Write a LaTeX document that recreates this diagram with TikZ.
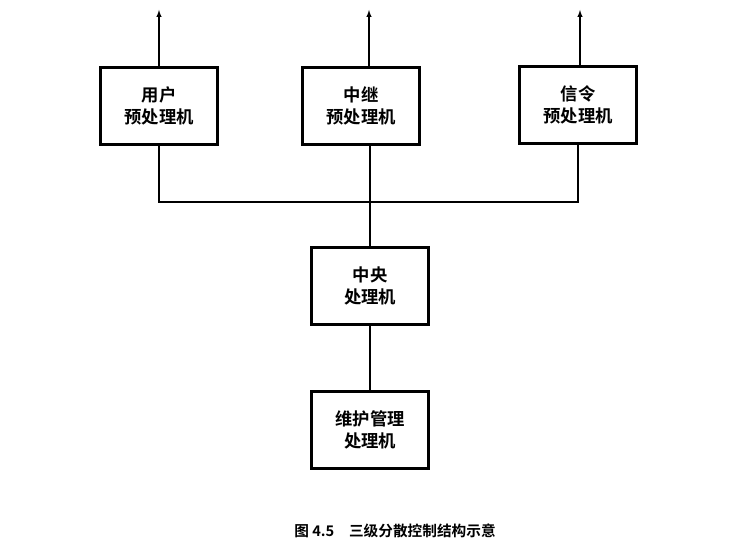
\documentclass[tikz,border=0pt]{standalone}
\usepackage{fontspec}
\setmainfont{Noto Sans CJK SC}[BoldFont={Noto Sans CJK SC Bold}]
\begin{document}
\begin{tikzpicture}[x=0.75pt,y=-0.75pt,
  box/.style={draw,line width=1.8pt,minimum width=88pt,minimum height=58pt,align=center,font=\fontsize{13}{17}\selectfont\bfseries},
  ln/.style={line width=0.8pt},
  ar/.style={ln,-latex}]
\useasboundingbox (0,0) rectangle (754,555);
\node[box] (u) at (159,106) {用户\\预处理机};
\node[box] (m) at (361,106) {中继\\预处理机};
\node[box] (s) at (578,105) {信令\\预处理机};
\node[box] (c) at (370,286) {中央\\处理机};
\node[box] (w) at (370,430) {维护管理\\处理机};
\coordinate (ut) at (159,10); \coordinate (mt) at (369,10); \coordinate (st) at (580,10);
\draw[ar] (u.north -| ut) -- (ut);
\draw[ar] (m.north -| mt) -- (mt);
\draw[ar] (s.north -| st) -- (st);
\coordinate (bl) at (159,202); \coordinate (br) at (578,202);
\draw[ln] (u.south) -- (bl) -- (br) -- (s.south);
\draw[ln] (m.south -| c.north) -- (c.north);
\draw[ln] (c.south) -- (w.north);
\node[font=\fontsize{11}{13}\selectfont\bfseries] (cap) at (395,531) {图 4.5\quad 三级分散控制结构示意};
\end{tikzpicture}
\end{document}
